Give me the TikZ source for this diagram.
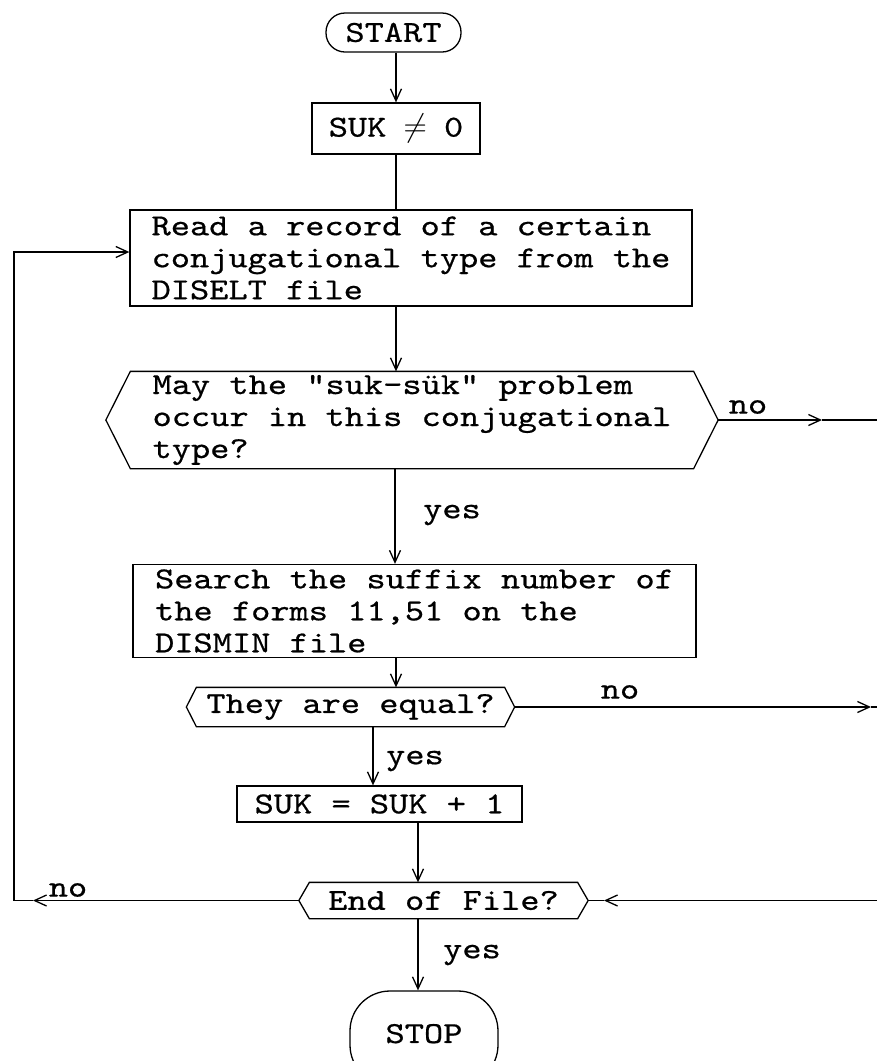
\documentclass[tikz,border=0pt]{standalone}
\usepackage{fontspec}
\setmonofont{lmmono10-regular.otf}[FakeStretch=1.2,FakeBold=0.6]
\usetikzlibrary{arrows.meta}

% outline of a decision box: a rectangle with pointed left and right ends
\newcommand\hexoutline[2]{%
  \draw (#1.north west) -- (#1.north east) -- ([xshift=#2]#1.east)
    -- (#1.south east) -- (#1.south west) -- ([xshift=-#2]#1.west) -- cycle;}

\begin{document}
\begin{tikzpicture}[x=1pt,y=-1pt,line width=1.3pt,
  font=\ttfamily\fontsize{30.5}{32}\selectfont,
  box/.style={draw,inner sep=0pt,align=left},
  term/.style={draw,inner sep=0pt},
  dec/.style={inner sep=0pt,align=left},
  lbl/.style={inner sep=0pt},
  arr/.style={-{Straight Barb[length=12pt,width=11pt,line width=1.3pt]}}]

\useasboundingbox (0,0) rectangle (877,1061);
\clip (0,0) rectangle (877,1061);

% terminals and processing steps
\node[term,rounded corners=19pt,minimum width=135pt,minimum height=39pt] (start) at (393.5,32.5) {START};
\node[box,minimum width=168pt,minimum height=51pt] (init) at (396,128.5)
  {SUK \makebox[19.2pt]{\scalebox{1.3}{$\neq$}} 0};
\node[box,minimum width=562pt,minimum height=96pt] (read) at (411,258)
  {Read a record of a certain\\conjugational type from the\\DISELT file};
\node[dec,minimum width=562pt,minimum height=96pt] (q1) at (412,420)
  {May the "suk-sük" problem\\occur in this conjugational\\type?};
\hexoutline{q1}{24.5pt}
\node[box,minimum width=563pt,minimum height=93pt] (search) at (414.5,611)
  {Search the suffix number of\\the forms 11,51 on the\\DISMIN file};
\node[dec,minimum width=307pt,minimum height=38pt] (q2) at (350.5,707) {They are equal?};
\hexoutline{q2}{10pt}
\node[box,minimum width=285pt,minimum height=36pt] (inc) at (379.5,804) {SUK = SUK + 1};
\node[dec,minimum width=267pt,minimum height=35pt] (eof) at (443.5,900.5) {End of File?};
\hexoutline{eof}{10.5pt}
\node[term,rounded corners=40pt,minimum width=148pt,minimum height=94pt] (stop) at (424,1038)
  {\raisebox{9pt}{STOP}};

% branch labels
\node[lbl] (no1) at (748,407) {no};
\node[lbl] (yes1) at (452,515) {yes};
\node[lbl] (no2) at (620,692) {no};
\node[lbl] (yes2) at (415,761) {yes};
\node[lbl] (no3) at (68,890) {no};
\node[lbl] (yes3) at (472,955) {yes};

% vertical flow
\coordinate (axA) at (396,0);
\coordinate (axB) at (395,0);
\coordinate (axC) at (373,0);
\coordinate (axD) at (418,0);
\draw[arr] (start.south -| axA) -- (init.north -| axA);
\draw (init.south -| axA) -- (read.north -| axA);
\draw[arr] (read.south -| axA) -- (q1.north -| axA);
\draw[arr] (q1.south -| axB) -- (search.north -| axB);
\draw[arr] (search.south -| axA) -- (q2.north -| axA);
\draw[arr] (q2.south -| axC) -- (inc.north -| axC);
\draw[arr] (inc.south -| axD) -- (eof.north -| axD);
\draw[arr] (eof.south -| axD) -- (stop.north -| axD);

% "no" exits to the right
\coordinate (q1r) at ([xshift=24.5pt]q1.east);
\coordinate (n1tip) at (822,420);
\coordinate (n1end) at (880,420);
\draw[arr] (q1r) -- (n1tip);
\draw (n1tip) -- (n1end);
\coordinate (q2r) at ([xshift=10pt]q2.east);
\coordinate (n2end) at (871,707);
\draw[arr] (q2r) -- (n2end);
\draw (n2end) -- (880,707);

% return line into the end-of-file test
\coordinate (eofr) at ([xshift=10.5pt]eof.east);
\coordinate (r3) at (880,900.5);
\coordinate (r3tip) at (604,900.5);
\draw[arr] (r3) -- (r3tip);
\draw (r3tip) -- (eofr);

% loop back to the read step
\coordinate (eofl) at ([xshift=-10.5pt]eof.west);
\coordinate (l3tip) at (33,900.5);
\coordinate (loopb) at (14,900.5);
\coordinate (loopt) at (14,252);
\draw[arr] (eofl) -- (l3tip);
\draw[arr] (l3tip) -- (loopb) -- (loopt) -- (loopt -| read.west);
\end{tikzpicture}
\end{document}
